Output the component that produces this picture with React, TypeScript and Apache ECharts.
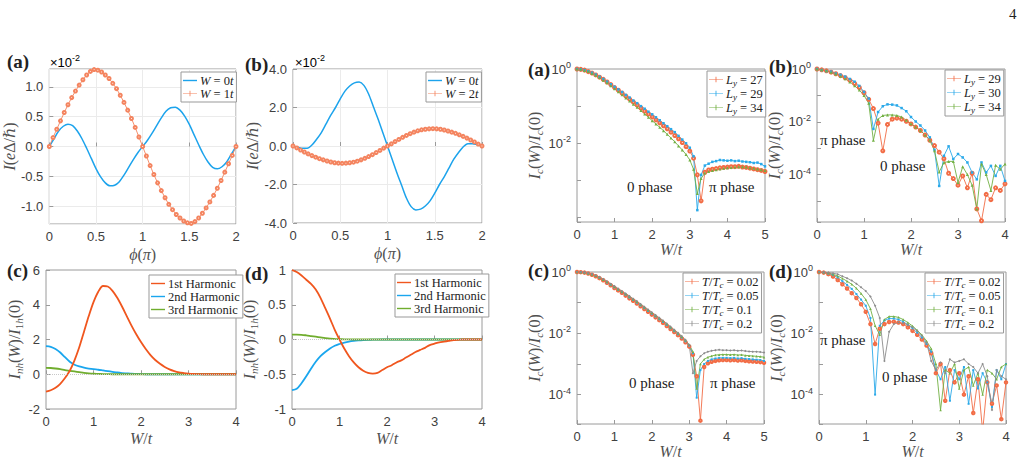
import React, { useEffect, useRef } from 'react';
import * as echarts from 'echarts';

// ---------- x grids ----------
const phi05 = [0,0.05,0.1,0.15,0.2,0.25,0.3,0.35,0.4,0.45,0.5,0.55,0.6,0.65,0.7,0.75,0.8,0.85,0.9,0.95,1.0,1.05,1.1,1.15,1.2,1.25,1.3,1.35,1.4,1.45,1.5,1.55,1.6,1.65,1.7,1.75,1.8,1.85,1.9,1.95,2.0];
const phi04 = [0,0.04,0.08,0.12,0.16,0.2,0.24,0.28,0.32,0.36,0.4,0.44,0.48,0.52,0.56,0.6,0.64,0.68,0.72,0.76,0.8,0.84,0.88,0.92,0.96,1.0,1.04,1.08,1.12,1.16,1.2,1.24,1.28,1.32,1.36,1.4,1.44,1.48,1.52,1.56,1.6,1.64,1.68,1.72,1.76,1.8,1.84,1.88,1.92,1.96,2.0];
const w0to4 = [0,0.1,0.2,0.3,0.4,0.5,0.6,0.7,0.8,0.9,1.0,1.1,1.2,1.3,1.4,1.5,1.6,1.7,1.8,1.9,2.0,2.1,2.2,2.3,2.4,2.5,2.6,2.7,2.8,2.9,3.0,3.1,3.2,3.3,3.4,3.5,3.6,3.7,3.8,3.9,4.0];
const w0to5 = [0,0.1,0.2,0.3,0.4,0.5,0.6,0.7,0.8,0.9,1.0,1.1,1.2,1.3,1.4,1.5,1.6,1.7,1.8,1.9,2.0,2.1,2.2,2.3,2.4,2.5,2.6,2.7,2.8,2.9,3.0,3.1,3.2,3.3,3.4,3.5,3.6,3.7,3.8,3.9,4.0,4.1,4.2,4.3,4.4,4.5,4.6,4.7,4.8,4.9,5.0];

// ---------- left (a): I in units of 1e-2 ----------
const aW0 = [0,0.13,0.26,0.34,0.375,0.35,0.26,0.13,-0.03,-0.2,-0.37,-0.51,-0.61,-0.66,-0.65,-0.59,-0.48,-0.35,-0.22,-0.1,0,
  0.1,0.22,0.35,0.48,0.59,0.65,0.66,0.61,0.51,0.37,0.2,0.03,-0.13,-0.26,-0.35,-0.375,-0.34,-0.26,-0.13,0];
const aW1 = [0,0.15,0.29,0.43,0.57,0.7,0.82,0.93,1.03,1.12,1.2,1.26,1.29,1.28,1.25,1.2,1.14,1.06,0.97,0.86,0.74,0.61,0.47,0.32,0.16,0,
  -0.16,-0.32,-0.47,-0.61,-0.74,-0.86,-0.97,-1.06,-1.14,-1.2,-1.25,-1.28,-1.29,-1.26,-1.2,-1.12,-1.03,-0.93,-0.82,-0.7,-0.57,-0.43,-0.29,-0.15,0];

// ---------- left (b) ----------
const bW0 = [0,-0.06,-0.12,-0.12,0.05,0.35,0.7,1.15,1.6,2.0,2.45,2.85,3.12,3.28,3.32,3.15,2.7,2.05,1.4,0.7,0,
  -0.7,-1.4,-2.05,-2.7,-3.15,-3.32,-3.28,-3.12,-2.85,-2.45,-2.0,-1.6,-1.15,-0.7,-0.35,-0.05,0.12,0.12,0.06,0];
const bW2 = [0,-0.1,-0.21,-0.31,-0.41,-0.5,-0.58,-0.66,-0.72,-0.78,-0.83,-0.87,-0.89,-0.9,-0.89,-0.87,-0.84,-0.79,-0.72,-0.64,-0.55,-0.45,-0.34,-0.23,-0.11,0,
  0.11,0.23,0.34,0.45,0.55,0.64,0.72,0.79,0.84,0.87,0.89,0.9,0.89,0.87,0.83,0.78,0.72,0.66,0.58,0.5,0.41,0.31,0.21,0.1,0];

// ---------- left (c) harmonics ----------
const cH1 = [-1.0,-0.92,-0.78,-0.55,-0.22,0.2,0.8,1.55,2.45,3.35,4.15,4.75,5.08,5.05,4.8,4.4,3.9,3.35,2.8,2.3,1.85,1.45,1.1,0.82,0.6,0.42,0.28,0.18,0.11,0.07,0.04,0.02,0.01,0,0,0,0,0,0,0,0];
const cH2 = [1.62,1.58,1.45,1.25,0.98,0.72,0.55,0.45,0.38,0.33,0.29,0.26,0.22,0.18,0.14,0.1,0.07,0.05,0.03,0.02,0.01,0,0,0,0,0,0,0,0,0,0,0,0,0,0,0,0,0,0,0,0];
const cH3 = [0.37,0.36,0.33,0.29,0.24,0.2,0.16,0.12,0.08,0.05,0.03,0.02,0.01,0.005,0,0,0,0,0,0,0,0,0,0,0,0,0,0,0,0,0,0,0,0,0,0,0,0,0,0,0];

// ---------- left (d) harmonics ----------
const dH1 = [1.0,0.97,0.92,0.86,0.8,0.72,0.6,0.45,0.3,0.14,0.0,-0.13,-0.24,-0.33,-0.4,-0.45,-0.48,-0.49,-0.48,-0.44,-0.4,-0.37,-0.33,-0.3,-0.26,-0.22,-0.18,-0.15,-0.12,-0.08,-0.06,-0.04,-0.03,-0.02,-0.01,-0.005,0,0,0,0,0];
const dH2 = [-0.73,-0.71,-0.63,-0.53,-0.42,-0.32,-0.24,-0.18,-0.13,-0.09,-0.065,-0.045,-0.03,-0.02,-0.013,-0.008,-0.005,-0.003,-0.001,0,0,0,0,0,0,0,0,0,0,0,0,0,0,0,0,0,0,0,0,0,0];
const dH3 = [0.07,0.07,0.068,0.06,0.05,0.04,0.03,0.02,0.012,0.008,0.005,0.003,0.001,0,0,0,0,0,0,0,0,0,0,0,0,0,0,0,0,0,0,0,0,0,0,0,0,0,0,0,0];

// ---------- right panels: log10 of Ic(W)/Ic(0) ----------
const raLy27Exp = [0,-0.01,-0.03,-0.07,-0.11,-0.16,-0.22,-0.28,-0.35,-0.42,-0.5,-0.57,-0.65,-0.73,-0.81,-0.89,-0.97,-1.05,-1.13,-1.21,
  -1.29,-1.37,-1.45,-1.53,-1.61,-1.7,-1.79,-1.88,-1.98,-2.09,-2.21,-2.4,-2.85,-3.55,-2.78,-2.72,-2.7,-2.68,-2.66,-2.65,
  -2.64,-2.63,-2.63,-2.62,-2.64,-2.65,-2.67,-2.69,-2.71,-2.73,-2.76];
const raLy29Exp = [0,-0.01,-0.03,-0.06,-0.1,-0.15,-0.21,-0.27,-0.34,-0.41,-0.48,-0.55,-0.62,-0.7,-0.77,-0.85,-0.92,-1.0,-1.07,-1.15,
  -1.22,-1.3,-1.38,-1.46,-1.54,-1.62,-1.7,-1.8,-1.9,-2.0,-2.12,-2.35,-3.8,-2.85,-2.6,-2.55,-2.5,-2.48,-2.45,-2.46,
  -2.47,-2.46,-2.48,-2.47,-2.49,-2.5,-2.51,-2.53,-2.52,-2.56,-2.62];
const raLy34Exp = [0,-0.01,-0.04,-0.07,-0.12,-0.17,-0.23,-0.3,-0.37,-0.45,-0.53,-0.61,-0.69,-0.78,-0.86,-0.95,-1.03,-1.12,-1.21,-1.3,
  -1.39,-1.48,-1.57,-1.66,-1.76,-1.86,-1.96,-2.07,-2.18,-2.3,-2.45,-2.7,-3.35,-2.95,-2.8,-2.76,-2.73,-2.71,-2.69,-2.67,
  -2.66,-2.65,-2.64,-2.63,-2.63,-2.64,-2.66,-2.67,-2.69,-2.71,-2.73];

const rbLy29Exp = [0,-0.03,-0.07,-0.12,-0.18,-0.25,-0.33,-0.43,-0.55,-0.7,-0.9,-1.15,-1.5,-2.05,-3.1,-2.1,-1.9,-1.86,-1.9,-1.98,
  -2.08,-2.2,-2.33,-2.5,-2.7,-2.9,-3.15,-3.4,-3.95,-4.15,-4.4,-4.05,-4.5,-3.95,-5.3,-5.75,-4.75,-4.95,-4.5,-4.6,-4.35];
const rbLy30Exp = [0,-0.04,-0.08,-0.1,-0.17,-0.22,-0.29,-0.38,-0.48,-0.64,-0.87,-1.12,-2.27,-1.63,-1.41,-1.34,-1.35,-1.38,-1.48,-1.6,
  -1.82,-1.99,-2.14,-2.33,-2.59,-3.06,-4.43,-3.29,-2.93,-3.41,-3.22,-3.35,-3.54,-3.92,-4.18,-3.54,-3.92,-3.67,-4.05,-3.67,-4.24];
const rbLy34Exp = [0,-0.03,-0.07,-0.12,-0.19,-0.27,-0.37,-0.49,-0.63,-0.8,-1.0,-1.3,-2.7,-1.9,-1.76,-1.74,-1.74,-1.76,-1.82,-1.94,
  -2.07,-2.2,-2.33,-2.5,-2.7,-3.1,-3.9,-3.55,-3.5,-3.5,-4.3,-3.7,-4.0,-4.4,-5.3,-3.6,-4.0,-4.6,-3.65,-3.8,-3.6];

const rcT002Exp = [0,-0.005,-0.02,-0.05,-0.09,-0.14,-0.2,-0.27,-0.35,-0.43,-0.52,-0.6,-0.68,-0.77,-0.86,-0.94,-1.03,-1.12,-1.21,-1.3,
  -1.39,-1.48,-1.57,-1.66,-1.76,-1.86,-1.96,-2.06,-2.17,-2.29,-2.43,-2.7,-3.4,-4.85,-3.1,-2.98,-2.93,-2.9,-2.88,-2.87,
  -2.87,-2.88,-2.87,-2.89,-2.88,-2.9,-2.91,-2.92,-2.93,-2.94,-2.96];
const rcT005Exp = [0,-0.005,-0.02,-0.05,-0.08,-0.13,-0.19,-0.26,-0.34,-0.42,-0.5,-0.58,-0.66,-0.74,-0.83,-0.91,-1.0,-1.09,-1.18,-1.27,
  -1.36,-1.45,-1.54,-1.63,-1.73,-1.83,-1.93,-2.03,-2.14,-2.26,-2.4,-2.65,-4.1,-3.2,-3.0,-2.9,-2.85,-2.82,-2.8,-2.8,
  -2.8,-2.81,-2.8,-2.82,-2.81,-2.83,-2.84,-2.85,-2.86,-2.87,-2.9];
const rcT01Exp = [0,-0.005,-0.02,-0.045,-0.08,-0.12,-0.18,-0.25,-0.32,-0.4,-0.48,-0.56,-0.64,-0.72,-0.8,-0.89,-0.97,-1.06,-1.15,-1.24,
  -1.33,-1.42,-1.51,-1.6,-1.7,-1.8,-1.9,-2.0,-2.11,-2.23,-2.37,-2.6,-3.8,-3.0,-2.85,-2.78,-2.74,-2.71,-2.7,-2.69,
  -2.69,-2.7,-2.69,-2.71,-2.7,-2.72,-2.73,-2.74,-2.75,-2.76,-2.78];
const rcT02Exp = [0,-0.005,-0.015,-0.04,-0.07,-0.11,-0.16,-0.23,-0.3,-0.38,-0.46,-0.54,-0.62,-0.7,-0.78,-0.87,-0.95,-1.04,-1.13,-1.22,
  -1.31,-1.4,-1.49,-1.58,-1.68,-1.78,-1.88,-1.98,-2.09,-2.21,-2.38,-3.3,-2.9,-2.75,-2.65,-2.6,-2.57,-2.55,-2.54,-2.55,
  -2.55,-2.56,-2.55,-2.57,-2.56,-2.58,-2.59,-2.6,-2.6,-2.61,-2.63];

const rdT002Exp = [0,-0.02,-0.07,-0.15,-0.26,-0.4,-0.54,-0.69,-0.85,-1.05,-1.3,-1.7,-2.35,-1.85,-1.7,-1.63,-1.62,-1.65,-1.7,-1.8,
  -1.92,-2.05,-2.2,-2.4,-2.65,-3.3,-3.0,-4.2,-3.2,-3.6,-3.3,-4.0,-3.4,-4.6,-3.5,-5.2,-3.6,-4.3,-3.7,-4.8,-3.6];
const rdT005Exp = [0,-0.015,-0.05,-0.1,-0.18,-0.3,-0.42,-0.55,-0.72,-0.9,-1.1,-1.5,-4.0,-1.75,-1.58,-1.52,-1.52,-1.55,-1.62,-1.72,
  -1.84,-1.98,-2.14,-2.35,-2.6,-3.2,-3.5,-3.1,-4.2,-3.2,-3.5,-3.1,-4.3,-3.2,-3.8,-3.3,-3.6,-4.4,-3.2,-3.5,-3.0];
const rdT01Exp = [0,-0.01,-0.035,-0.075,-0.13,-0.21,-0.3,-0.4,-0.53,-0.7,-0.9,-1.2,-1.75,-2.05,-1.55,-1.45,-1.45,-1.48,-1.55,-1.65,
  -1.76,-1.9,-2.05,-2.25,-2.5,-3.0,-4.5,-3.2,-3.3,-3.0,-3.8,-3.2,-3.1,-3.7,-3.3,-4.0,-3.2,-3.3,-3.5,-3.1,-3.0];
const rdT02Exp = [0,-0.005,-0.02,-0.04,-0.07,-0.14,-0.2,-0.28,-0.38,-0.5,-0.62,-0.8,-1.1,-1.5,-2.9,-1.95,-1.7,-1.65,-1.67,-1.72,
  -1.8,-1.92,-2.08,-2.3,-2.9,-3.2,-2.95,-3.3,-2.85,-2.95,-2.9,-2.85,-3.0,-3.1,-3.3,-3.0,-3.4,-4.5,-3.2,-3.4,-3.5];

// ---------- styling ----------
const SANS = 'Liberation Sans, Arial, sans-serif';
const SERIF = 'Liberation Serif, DejaVu Serif, serif';
const C_BLUE = '#1ca3ec';
const C_SALMON = '#f4845f';
const C_H1 = '#f0561e';
const C_H2 = '#1aa6ee';
const C_H3 = '#70ad2e';
const C_ROR = '#f26c45';
const C_RBL = '#2aa9e9';
const C_RGR = '#72b043';
const C_RGY = '#8c8c8c';
const AX = '#9a9a9a';
const TXT = '#404040';
const LINE_ICON = 'path://M0,0 L20,0 L20,2 L0,2 Z';
const PLUS_ICON = 'path://M0,4.6 L20,4.6 L20,5.4 L0,5.4 Z M9.4,1 L10.6,1 L10.6,9 L9.4,9 Z';

const nameRich: any = {
  i: { fontFamily: SERIF, fontStyle: 'italic', fontSize: 16, color: '#505050' },
  r: { fontFamily: SERIF, fontSize: 16, color: '#505050' },
  sb: { fontFamily: SERIF, fontSize: 11, color: '#505050', padding: [9, 0, 0, 0] },
  sbi: { fontFamily: SERIF, fontStyle: 'italic', fontSize: 11, color: '#505050', padding: [9, 0, 0, 0] },
};
const legRich: any = {
  i: { fontFamily: SERIF, fontStyle: 'italic', fontSize: 12.5, color: '#222' },
  r: { fontFamily: SERIF, fontSize: 12.5, color: '#222' },
  si: { fontFamily: SERIF, fontStyle: 'italic', fontSize: 9, color: '#222', padding: [6, 0, 0, 0] },
};
const supRich: any = {
  b: { fontFamily: SANS, fontSize: 13, color: TXT },
  s: { fontFamily: SANS, fontSize: 9, color: TXT, padding: [0, 0, 8, 0] },
};

const legendLabel: Record<string, string> = {
  'La0': '{i|W}{r| = 0}{i|t}', 'La1': '{i|W}{r| = 1}{i|t}',
  'Lb0': '{i|W}{r| = 0}{i|t}', 'Lb2': '{i|W}{r| = 2}{i|t}',
  'Lc1': '{r|1st Harmonic}', 'Lc2': '{r|2nd Harmonic}', 'Lc3': '{r|3rd Harmonic}',
  'Ld1': '{r|1st Harmonic}', 'Ld2': '{r|2nd Harmonic}', 'Ld3': '{r|3rd Harmonic}',
  'Ra27': '{i|L}{si|y}{r| = 27}', 'Ra29': '{i|L}{si|y}{r| = 29}', 'Ra34': '{i|L}{si|y}{r| = 34}',
  'Rb29': '{i|L}{si|y}{r| = 29}', 'Rb30': '{i|L}{si|y}{r| = 30}', 'Rb34': '{i|L}{si|y}{r| = 34}',
  'Rc1': '{i|T}{r|/}{i|T}{si|c}{r| = 0.02}', 'Rc2': '{i|T}{r|/}{i|T}{si|c}{r| = 0.05}', 'Rc3': '{i|T}{r|/}{i|T}{si|c}{r| = 0.1}', 'Rc4': '{i|T}{r|/}{i|T}{si|c}{r| = 0.2}',
  'Rd1': '{i|T}{r|/}{i|T}{si|c}{r| = 0.02}', 'Rd2': '{i|T}{r|/}{i|T}{si|c}{r| = 0.05}', 'Rd3': '{i|T}{r|/}{i|T}{si|c}{r| = 0.1}', 'Rd4': '{i|T}{r|/}{i|T}{si|c}{r| = 0.2}',
};

const grids = [
  { left: 49, top: 69, width: 187, height: 155 },
  { left: 293, top: 69, width: 189, height: 154 },
  { left: 46, top: 270, width: 190, height: 139 },
  { left: 292, top: 270, width: 190, height: 139 },
  { left: 577, top: 69, width: 188, height: 153 },
  { left: 817, top: 69, width: 188, height: 153 },
  { left: 577, top: 272, width: 187, height: 152 },
  { left: 819, top: 272, width: 187, height: 152 },
];

const NAME_PHI = '{i|ϕ}{r|(}{i|π}{r|)}';
const NAME_WT = '{i|W}{r|/}{i|t}';
const NAME_I = '{i|I}{r|(}{i|e}{r|Δ/}{i|ℏ}{r|)}';
const NAME_INH = '{i|I}{sbi|nh}{r|(}{i|W}{r|)/}{i|I}{sb|1}{sbi|h}{r|(0)}';
const NAME_IC = '{i|I}{sbi|c}{r|(}{i|W}{r|)/}{i|I}{sbi|c}{r|(0)}';

function baseAxis(gridIndex: number, name: string, gap: number) {
  return {
    gridIndex,
    name,
    nameLocation: 'middle',
    nameGap: gap,
    nameTextStyle: { rich: nameRich },
    axisLine: { show: false },
    axisTick: { inside: true, length: 4, lineStyle: { color: AX } },
    axisLabel: { color: TXT, fontFamily: SANS, fontSize: 13, margin: 6 },
    splitLine: { show: false },
  };
}
function xAx(g: number, max: number, interval: number, name: string, gap: number, grid = false) {
  const a: any = baseAxis(g, name, gap);
  a.type = 'value'; a.min = 0; a.max = max; a.interval = interval;
  a.splitLine = { show: grid, lineStyle: { color: '#ebebeb' } };
  return a;
}
function yLin(g: number, min: number, max: number, interval: number | undefined, gap: number, fmt: ((v: number) => string) | undefined, grid = false) {
  const a: any = baseAxis(g, g < 2 ? NAME_I : NAME_INH, gap);
  a.type = 'value'; a.min = min; a.max = max;
  if (interval !== undefined) a.interval = interval;
  if (fmt) a.axisLabel = { ...a.axisLabel, formatter: fmt, showMinLabel: interval !== undefined, showMaxLabel: interval !== undefined };
  a.splitLine = { show: grid, lineStyle: { color: '#ebebeb' } };
  return a;
}
function yLog(g: number, min: number, gap: number, lowestLabel: number) {
  const a: any = baseAxis(g, NAME_IC, gap);
  a.type = 'log'; a.logBase = 10; a.min = min; a.max = 1;
  a.axisLabel = {
    ...a.axisLabel,
    rich: supRich,
    formatter: (v: number) => {
      const l = Math.log10(v);
      const e = Math.round(l);
      if (Math.abs(l - e) > 1e-6 || e % 2 !== 0 || e < lowestLabel) return '';
      return `{b|10}{s|${e}}`;
    },
  };
  return a;
}

function ser(name: string, g: number, xs: number[], ys: number[], color: string, opt: any = {}) {
  const log = opt.log;
  return {
    type: 'line', name, xAxisIndex: g, yAxisIndex: g,
    data: xs.map((x, i) => [x, log ? Math.pow(10, ys[i]) : ys[i]]),
    symbol: opt.symbol || 'none',
    symbolSize: opt.size || 3,
    showSymbol: !!opt.symbol,
    smooth: opt.smooth || false,
    lineStyle: { color, width: opt.width || 0.9 },
    itemStyle: { color, borderWidth: 0.8 },
    emphasis: { disabled: true },
    z: opt.z || 2,
    markLine: opt.zero ? {
      silent: true, symbol: 'none', label: { show: false },
      lineStyle: { color: '#c8c8c8', type: 'dotted', width: 1 },
      data: [{ yAxis: 0 }],
    } : undefined,
  };
}

// icons: one per name, 'line' or 'plus'
function legend(names: string[], icons: string[], left: number, top: number) {
  return {
    data: names.map((n, i) => ({ name: n, icon: icons[i] === 'line' ? LINE_ICON : PLUS_ICON })),
    left, top, orient: 'vertical',
    itemWidth: 14, itemHeight: 8, itemGap: 0, padding: [2, 3, 2, 2],
    borderColor: '#999', borderWidth: 1, backgroundColor: '#fff', selectedMode: false,
    formatter: (n: string) => legendLabel[n],
    textStyle: { fontFamily: SERIF, fontSize: 12.5, color: '#222', rich: legRich, padding: [0, 0, 0, -2] },
  };
}

function label(text: string, x: number, y: number, font = `bold 19px ${SERIF}`) {
  return { type: 'text', x, y, style: { text, font, fill: '#222', verticalAlign: 'middle' } };
}

export default function App() {
  const ref = useRef<HTMLDivElement>(null);
  useEffect(() => {
    if (!ref.current) return;
    const chart = echarts.init(ref.current, undefined, { renderer: 'svg' });
    const sup = { a: { fontFamily: SANS, fontSize: 13, color: TXT }, s: { fontFamily: SANS, fontSize: 9, color: TXT, padding: [0, 0, 8, 0] } };
    const P = ['plus', 'plus', 'plus', 'plus'];
    const option: any = {
      animation: false,
      backgroundColor: '#fff',
      grid: grids.map((g) => ({ ...g, show: true, borderColor: AX, borderWidth: 1, backgroundColor: 'transparent' })),
      xAxis: [
        xAx(0, 2, 0.5, NAME_PHI, 22, true),
        xAx(1, 2, 0.5, NAME_PHI, 22, true),
        xAx(2, 4, 1, NAME_WT, 21),
        xAx(3, 4, 1, NAME_WT, 21),
        xAx(4, 5, 1, NAME_WT, 19),
        xAx(5, 4, 1, NAME_WT, 19),
        xAx(6, 5, 1, NAME_WT, 19),
        xAx(7, 4, 1, NAME_WT, 19),
      ],
      yAxis: [
        yLin(0, -1.3, 1.3, undefined, 27, (v) => v.toFixed(1), true),
        yLin(1, -4, 4, 2, 28, (v) => v.toFixed(1), true),
        yLin(2, -2, 6, 2, 19, undefined),
        yLin(3, -1, 1, 0.5, 24, undefined),
        yLog(4, 7.6e-5, 29, -2),
        yLog(5, 1.6e-6, 28, -4),
        yLog(6, 1.1e-5, 29, -4),
        yLog(7, 1.1e-5, 29, -4),
      ],
      legend: [
        legend(['La0', 'La1'], ['line', 'plus'], 181, 72),
        legend(['Lb0', 'Lb2'], ['line', 'plus'], 426, 72),
        legend(['Lc1', 'Lc2', 'Lc3'], ['line', 'line', 'line'], 149, 275),
        legend(['Ld1', 'Ld2', 'Ld3'], ['line', 'line', 'line'], 395, 274),
        legend(['Ra27', 'Ra29', 'Ra34'], P, 707, 71),
        legend(['Rb29', 'Rb30', 'Rb34'], P, 945, 70),
        legend(['Rc1', 'Rc2', 'Rc3', 'Rc4'], P, 683, 273),
        legend(['Rd1', 'Rd2', 'Rd3', 'Rd4'], P, 925, 273),
      ],
      series: [
        ser('La0', 0, phi05, aW0, C_BLUE, { width: 1.5, smooth: 0.3 }),
        ser('La1', 0, phi04, aW1, C_SALMON, { symbol: 'emptyCircle', size: 3 }),
        ser('Lb0', 1, phi05, bW0, C_BLUE, { width: 1.5, smooth: 0.3 }),
        ser('Lb2', 1, phi04, bW2, C_SALMON, { symbol: 'emptyCircle', size: 3 }),
        ser('Lc1', 2, w0to4, cH1, C_H1, { width: 1.8, smooth: 0.3, zero: true, z: 3 }),
        ser('Lc2', 2, w0to4, cH2, C_H2, { width: 1.8, smooth: 0.3 }),
        ser('Lc3', 2, w0to4, cH3, C_H3, { width: 1.8, smooth: 0.3 }),
        ser('Ld1', 3, w0to4, dH1, C_H1, { width: 1.8, smooth: 0.3, zero: true, z: 3 }),
        ser('Ld2', 3, w0to4, dH2, C_H2, { width: 1.8, smooth: 0.3 }),
        ser('Ld3', 3, w0to4, dH3, C_H3, { width: 1.8, smooth: 0.3 }),
        ser('Ra27', 4, w0to5, raLy27Exp, C_ROR, { log: true, symbol: 'emptyCircle', size: 3 }),
        ser('Ra29', 4, w0to5, raLy29Exp, C_RBL, { log: true, symbol: 'rect', size: 2.5 }),
        ser('Ra34', 4, w0to5, raLy34Exp, C_RGR, { log: true, symbol: 'triangle', size: 3 }),
        ser('Rb29', 5, w0to4, rbLy29Exp, C_ROR, { log: true, symbol: 'emptyCircle', size: 3 }),
        ser('Rb30', 5, w0to4, rbLy30Exp, C_RBL, { log: true, symbol: 'rect', size: 2.5 }),
        ser('Rb34', 5, w0to4, rbLy34Exp, C_RGR, { log: true, symbol: 'triangle', size: 3 }),
        ser('Rc1', 6, w0to5, rcT002Exp, C_ROR, { log: true, symbol: 'emptyCircle', size: 2.5 }),
        ser('Rc2', 6, w0to5, rcT005Exp, C_RBL, { log: true, symbol: 'rect', size: 2 }),
        ser('Rc3', 6, w0to5, rcT01Exp, C_RGR, { log: true, symbol: 'triangle', size: 2.5 }),
        ser('Rc4', 6, w0to5, rcT02Exp, C_RGY, { log: true, symbol: 'diamond', size: 2.5 }),
        ser('Rd1', 7, w0to4, rdT002Exp, C_ROR, { log: true, symbol: 'emptyCircle', size: 2.5 }),
        ser('Rd2', 7, w0to4, rdT005Exp, C_RBL, { log: true, symbol: 'rect', size: 2 }),
        ser('Rd3', 7, w0to4, rdT01Exp, C_RGR, { log: true, symbol: 'triangle', size: 2.5 }),
        ser('Rd4', 7, w0to4, rdT02Exp, C_RGY, { log: true, symbol: 'diamond', size: 2.5 }),
      ],
      graphic: [
        label('4', 1009, 14, `15px ${SERIF}`),
        label('(a)', 7, 61), label('(b)', 245, 64), label('(c)', 7, 270), label('(d)', 245, 273),
        label('(a)', 528, 69), label('(b)', 769, 66), label('(c)', 528, 270), label('(d)', 769, 271),
        { type: 'text', x: 50, y: 62, style: { text: '{a|×10}{s|-2}', rich: sup, verticalAlign: 'middle' } },
        { type: 'text', x: 295, y: 62, style: { text: '{a|×10}{s|-2}', rich: sup, verticalAlign: 'middle' } },
        label('0 phase', 627, 187, `15px ${SERIF}`), label('π phase', 709, 187, `15px ${SERIF}`),
        label('π phase', 820, 140, `15px ${SERIF}`), label('0 phase', 880, 166, `15px ${SERIF}`),
        label('0 phase', 629, 383, `15px ${SERIF}`), label('π phase', 710, 383, `15px ${SERIF}`),
        label('π phase', 820, 340, `15px ${SERIF}`), label('0 phase', 882, 377, `15px ${SERIF}`),
      ],
    };
    chart.setOption(option);
    return () => chart.dispose();
  }, []);
  return <div ref={ref} style={{ position: 'absolute', left: 0, top: 0, width: 1027, height: 466, background: '#fff' }} />;
}
